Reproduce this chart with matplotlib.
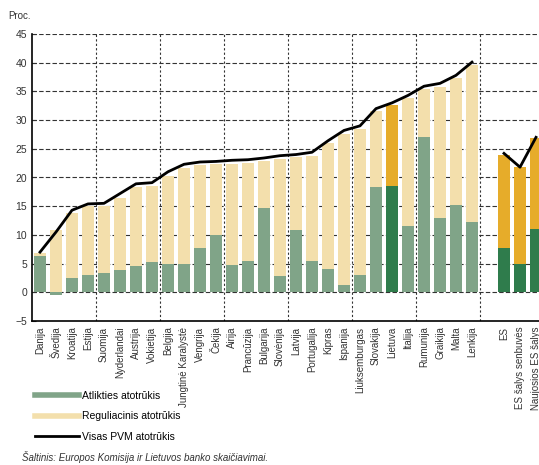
import matplotlib.pyplot as plt
from matplotlib.lines import Line2D
import numpy as np

plt.rcParams['font.family'] = ['Liberation Sans', 'DejaVu Sans']

# Šalys
salys = ['Danija', 'Švedija', 'Kroatija', 'Estija', 'Suomija', 'Nyderlandai',
         'Austrija', 'Vokietija', 'Belgija', 'Jungtinė Karalystė', 'Vengrija',
         'Čekija', 'Airija', 'Prancūzija', 'Bulgarija', 'Slovėnija', 'Latvija',
         'Portugalija', 'Kipras', 'Ispanija', 'Liuksemburgas', 'Slovakija',
         'Lietuva', 'Italija', 'Rumunija', 'Graikija', 'Malta', 'Lenkija']
atlikties = [6.3, -0.5, 2.5, 3.0, 3.4, 3.8, 4.5, 5.2, 5.0, 5.0, 7.8, 10.0,
             4.7, 5.5, 14.7, 2.8, 10.8, 5.4, 4.0, 1.2, 3.0, 18.3, 18.6, 11.5,
             27.1, 12.9, 15.2, 12.2]
reguliacinis = [0.5, 10.9, 11.3, 12.0, 11.6, 12.7, 13.8, 13.3, 15.3, 16.7,
                14.3, 12.3, 17.7, 17.0, 8.1, 20.4, 12.7, 18.4, 22.0, 26.4,
                25.5, 13.2, 14.0, 22.3, 8.3, 22.9, 22.2, 27.4]
visas = [7.0, 10.5, 14.3, 15.4, 15.5, 17.2, 18.9, 19.1, 21.0, 22.3, 22.7,
         22.8, 23.0, 23.1, 23.4, 23.8, 24.0, 24.4, 26.4, 28.2, 29.0, 32.0,
         33.0, 34.3, 35.9, 36.4, 37.8, 40.1]

# ES suvestinės
grupes = ['ES', 'ES šalys senbuvės', 'Naujosios ES šalys']
grupes_atlikties = [7.8, 4.9, 11.1]
grupes_reguliacinis = [16.2, 16.9, 15.7]
grupes_visas = [24.2, 21.8, 27.0]

green = '#80a488'
beige = '#f3dfac'
dgreen = '#2f7c4c'
orange = '#e6ac2a'

fig = plt.figure(figsize=(5.39, 4.65), dpi=100)
ax = fig.add_axes([32/539, 1-321/465, 528/539, 287/465])

x = np.arange(len(salys))
xg = np.arange(len(grupes)) + len(salys) + 1
w = 0.72

cg = [dgreen if s == 'Lietuva' else green for s in salys]
cb = [orange if s == 'Lietuva' else beige for s in salys]
bott = [max(a, 0) for a in atlikties]
ax.bar(x, atlikties, w, color=cg, zorder=2)
ax.bar(x, reguliacinis, w, bottom=bott, color=cb, zorder=2)
ax.plot(x, visas, color='black', lw=2, zorder=3)

ax.bar(xg, grupes_atlikties, w, color=dgreen, zorder=2)
ax.bar(xg, grupes_reguliacinis, w, bottom=grupes_atlikties, color=orange, zorder=2)
ax.plot(xg, grupes_visas, color='black', lw=2, zorder=3)

ax.set_xlim(-0.5, 32.5)
ax.set_ylim(-5, 45)
ax.set_yticks(range(-5, 46, 5))
ax.set_yticklabels([str(v).replace('-', '\u2212') for v in range(-5, 46, 5)])
ax.set_xticks(list(x) + list(xg))
ax.set_xticklabels(salys + grupes, rotation=90, fontsize=7, color='#333333')
ax.tick_params(axis='x', length=0, pad=4)
ax.tick_params(axis='y', labelsize=7.5, length=3, direction='in', colors='#333333')

for v in range(0, 46, 5):
    ax.axhline(v, color='#333333', lw=0.8, ls=(0, (4, 2)), zorder=1)
for v in np.arange(3.5, 32, 4):
    ax.axvline(v, color='#333333', lw=0.8, ls=(0, (2, 2)), zorder=1)

ax.spines['top'].set_visible(False)
ax.spines['right'].set_visible(False)
ax.spines['left'].set_linewidth(1.2)
ax.spines['bottom'].set_linewidth(1.2)

fig.text(8/539, 1-16/465, 'Proc.', fontsize=7, color='#333333', va='center')

handles = [Line2D([], [], color=green, lw=4),
           Line2D([], [], color=beige, lw=4),
           Line2D([], [], color='black', lw=2)]
labels = ['Atlikties atotrūkis', 'Reguliacinis atotrūkis', 'Visas PVM atotrūkis']
fig.legend(handles, labels, loc='upper left', bbox_to_anchor=(35/539, 1-391/465),
           frameon=False, fontsize=7.5, handlelength=4.2, labelspacing=1.0,
           handletextpad=0.3, borderpad=0, borderaxespad=0)

fig.text(22/539, 1-457/465, 'Šaltinis: Europos Komisija ir Lietuvos banko skaičiavimai.',
         fontsize=7, style='italic', color='#333333', va='center')

fig.savefig('out.png', dpi=100)
